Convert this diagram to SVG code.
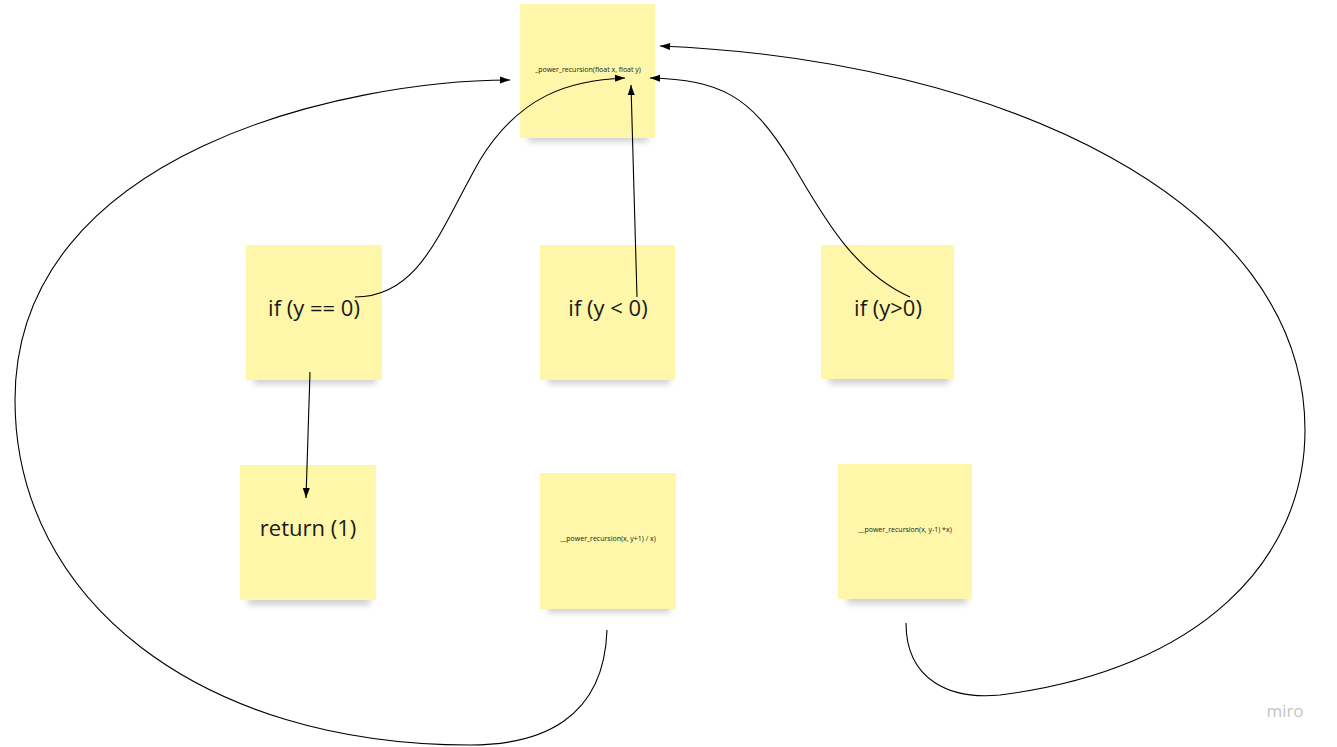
<svg xmlns="http://www.w3.org/2000/svg" width="1337" height="747" viewBox="0 0 1337 747">
<style>
.n{fill:#fef6a8}
.s{fill:#000;opacity:0.18;filter:url(#b)}
.t{font-family:"Open Sans","Liberation Sans",sans-serif;fill:#1a1a1a;text-anchor:middle}
.c{fill:none;stroke:#000;stroke-width:1.1;marker-end:url(#a)}
</style>
<defs>
<filter id="b" x="-20%" y="-50%" width="140%" height="200%"><feGaussianBlur stdDeviation="3"/></filter>
<marker id="a" viewBox="0 0 10 10" refX="10" refY="5" markerWidth="12" markerHeight="10" markerUnits="userSpaceOnUse" orient="auto"><path d="M0,1.5 L10,5 L0,8.5 Z" fill="#000"/></marker>
</defs>
<rect width="1337" height="747" fill="#fff"/>
<g id="top"><rect class="s" x="528" y="130" width="120" height="12"/><rect class="n" x="520" y="4" width="135" height="134"/><text class="t" x="588" y="72" font-size="7">_power_recursion(float x, float y)</text></g>
<g id="n1"><rect class="s" x="254" y="372" width="122" height="12"/><rect class="n" x="246" y="245" width="136" height="135"/><text class="t" x="314" y="316" font-size="22">if (y == 0)</text></g>
<g id="n2"><rect class="s" x="548" y="372" width="122" height="12"/><rect class="n" x="540" y="245" width="135" height="135"/><text class="t" x="608" y="316" font-size="22">if (y &lt; 0)</text></g>
<g id="n3"><rect class="s" x="829" y="372" width="120" height="12"/><rect class="n" x="821" y="245" width="133" height="134"/><text class="t" x="888" y="316" font-size="22">if (y&gt;0)</text></g>
<g id="n4"><rect class="s" x="248" y="593" width="122" height="12"/><rect class="n" x="240" y="465" width="136" height="135"/><text class="t" x="308" y="536" font-size="22">return (1)</text></g>
<g id="n5"><rect class="s" x="548" y="601" width="122" height="12"/><rect class="n" x="540" y="473" width="136" height="136"/><text class="t" x="608" y="541" font-size="7">__power_recursion(x, y+1) / x)</text></g>
<g id="n6"><rect class="s" x="847" y="592" width="120" height="12"/><rect class="n" x="838" y="464" width="134" height="135"/><text class="t" x="905" y="532" font-size="7">__power_recursion(x, y-1) *x)</text></g>
<g id="connectors">
<path class="c" d="M607,630 C604,720 540,745 470,745 C200,745 15,600 15,400 C15,150 350,80 510,80"/>
<path class="c" d="M355,297 C420,297 440,230 480,160 C520,95 570,80 625,78"/>
<path class="c" d="M637,297 L631,85"/>
<path class="c" d="M910,297 C850,270 820,210 790,160 C750,95 720,80 650,78"/>
<path class="c" d="M906,623 C906,680 950,700 1000,695 C1200,670 1305,560 1305,430 C1305,200 1000,60 660,46"/>
<path class="c" d="M310,372 L306,498"/>
</g>
<text x="1285" y="717" font-family="'Open Sans','Liberation Sans',sans-serif" font-size="17" fill="#c4c4c4" text-anchor="middle">miro</text>
</svg>
